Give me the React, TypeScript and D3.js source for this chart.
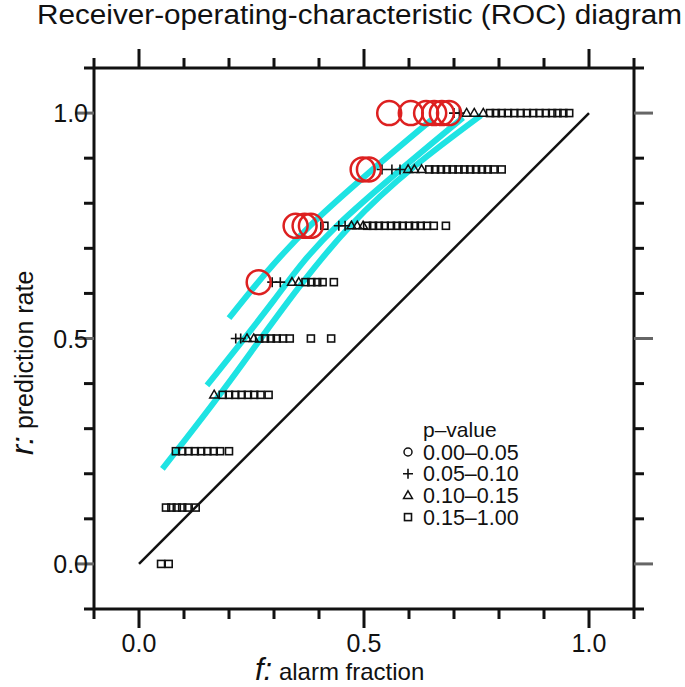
import * as d3 from 'd3';

// ── Data ────────────────────────────────────────────────────────────────────
const axisTicks = [-0.1, 0, 0.1, 0.2, 0.3, 0.4, 0.5, 0.6, 0.7, 0.8, 0.9, 1.0, 1.1];
const majorTicks = [0, 0.5, 1.0];
const tickLabels = ['0.0', '0.5', '1.0'];

// p 0.00–0.05 (drawn as big red circles)
const circlePts: [number, number][] = [
  [0.556, 1.0], [0.604, 1.0], [0.638, 1.0], [0.656, 1.0], [0.673, 1.0], [0.689, 1.0],
  [0.497, 0.875], [0.511, 0.875],
  [0.348, 0.75], [0.368, 0.75], [0.382, 0.75],
  [0.266, 0.625],
];

// p 0.05–0.10
const plusPts: [number, number][] = [
  [0.700, 1.0], [0.712, 1.0],
  [0.540, 0.875], [0.562, 0.875], [0.580, 0.875],
  [0.444, 0.75], [0.458, 0.75],
  [0.296, 0.625], [0.314, 0.625],
  [0.215, 0.5], [0.226, 0.5],
];

// p 0.10–0.15
const trianglePts: [number, number][] = [
  [0.728, 1.0], [0.745, 1.0], [0.765, 1.0],
  [0.598, 0.875], [0.612, 0.875], [0.628, 0.875],
  [0.472, 0.75], [0.485, 0.75], [0.498, 0.75],
  [0.340, 0.625], [0.355, 0.625],
  [0.240, 0.5], [0.255, 0.5],
  [0.167, 0.375],
];

// p 0.15–1.00
const squarePts: [number, number][] = [
  [0.780, 1.0], [0.793, 1.0], [0.806, 1.0], [0.820, 1.0], [0.834, 1.0], [0.848, 1.0], [0.862, 1.0],
  [0.876, 1.0], [0.890, 1.0], [0.904, 1.0], [0.918, 1.0], [0.930, 1.0], [0.943, 1.0], [0.956, 1.0],
  [0.645, 0.875], [0.658, 0.875], [0.671, 0.875], [0.684, 0.875], [0.697, 0.875], [0.710, 0.875],
  [0.723, 0.875], [0.736, 0.875], [0.749, 0.875], [0.762, 0.875], [0.775, 0.875], [0.788, 0.875], [0.806, 0.875],
  [0.412, 0.75], [0.507, 0.75], [0.520, 0.75], [0.533, 0.75], [0.546, 0.75], [0.560, 0.75], [0.573, 0.75],
  [0.586, 0.75], [0.600, 0.75], [0.613, 0.75], [0.626, 0.75], [0.640, 0.75], [0.655, 0.75], [0.682, 0.75],
  [0.370, 0.625], [0.383, 0.625], [0.396, 0.625], [0.408, 0.625], [0.433, 0.625],
  [0.267, 0.5], [0.280, 0.5], [0.293, 0.5], [0.306, 0.5], [0.320, 0.5], [0.335, 0.5], [0.382, 0.5], [0.427, 0.5],
  [0.186, 0.375], [0.200, 0.375], [0.214, 0.375], [0.228, 0.375], [0.242, 0.375], [0.256, 0.375], [0.270, 0.375], [0.288, 0.375],
  [0.082, 0.25], [0.096, 0.25], [0.110, 0.25], [0.124, 0.25], [0.138, 0.25], [0.152, 0.25], [0.166, 0.25], [0.180, 0.25], [0.200, 0.25],
  [0.060, 0.125], [0.072, 0.125], [0.084, 0.125], [0.096, 0.125], [0.108, 0.125], [0.126, 0.125],
  [0.049, 0.0], [0.066, 0.0],
];

// cyan ROC curves
const curveA: [number, number][] = [[0.20, 0.545], [0.38, 0.75], [0.65, 0.985]];
const curveB: [number, number][] = [[0.151, 0.396], [0.30, 0.585], [0.44, 0.75], [0.72, 0.99]];
const curveC: [number, number][] = [[0.052, 0.211], [0.22, 0.43], [0.47, 0.75], [0.76, 0.995]];

const diagonal: [number, number][] = [[0, 0], [1, 1]];

const legendTitle = 'p–value';
const legendLabels = ['0.00–0.05', '0.05–0.10', '0.10–0.15', '0.15–1.00'];
const legendKinds = ['circ', 'plus', 'tri', 'sq'];

// ── Layout ──────────────────────────────────────────────────────────────────
const W = 685;
const H = 687;
const FONT = '"Liberation Sans", Arial, Helvetica, sans-serif';
const CYAN = '#1ee3e3';
const RED = '#dd2020';

const x = d3.scaleLinear().domain([-0.1, 1.1]).range([94, 634]);
const y = d3.scaleLinear().domain([-0.1, 1.1]).range([609, 68]);

const line = d3.line<[number, number]>()
  .x(d => x(d[0]))
  .y(d => y(d[1]))
  .curve(d3.curveNatural);

const tri = d3.symbol(d3.symbolTriangle, 34)();
const plus = 'M-5,0H5M0,-5V5';

function Marker({ kind, cx, cy }: { kind: string; cx: number; cy: number }) {
  if (kind === 'plus') {
    return <path d={plus} transform={`translate(${cx},${cy})`} stroke="#111" strokeWidth={1.6} fill="none" />;
  }
  if (kind === 'tri') {
    return <path d={tri ?? ''} transform={`translate(${cx},${cy + 0.5})`} stroke="#111" strokeWidth={1.5} fill="none" />;
  }
  if (kind === 'sq') {
    return <rect x={cx - 3.5} y={cy - 3.5} width={7} height={7} stroke="#111" strokeWidth={1.6} fill="none" />;
  }
  return <circle cx={cx} cy={cy} r={4} stroke="#111" strokeWidth={1.5} fill="none" />;
}

export default function App() {
  const [x0, x1] = x.domain();
  const [y0, y1] = y.domain();
  const L = x(x0), R = x(x1), T = y(y1), B = y(y0);
  const tickLen = (v: number) => (majorTicks.includes(+v.toFixed(2)) ? 19 : 10);

  return (
    <svg width={W} height={H} style={{ position: 'absolute', left: 0, top: 0, background: '#fff' }}
      fontFamily={FONT}>
      {/* title */}
      <text x={37} y={24} fontSize={27} textLength={645} lengthAdjust="spacingAndGlyphs" fill="#111">
        Receiver-operating-characteristic (ROC) diagram
      </text>

      {/* cyan curves */}
      {[curveA, curveB, curveC].map((c, i) => (
        <path key={i} d={line(c) ?? ''} fill="none" stroke={CYAN} strokeWidth={6} />
      ))}

      {/* no-skill diagonal */}
      <path d={line(diagonal) ?? ''} fill="none" stroke="#111" strokeWidth={2.5} />

      {/* markers */}
      {squarePts.map((d, i) => <Marker key={`s${i}`} kind="sq" cx={x(d[0])} cy={y(d[1])} />)}
      {trianglePts.map((d, i) => <Marker key={`t${i}`} kind="tri" cx={x(d[0])} cy={y(d[1])} />)}
      {plusPts.map((d, i) => <Marker key={`p${i}`} kind="plus" cx={x(d[0])} cy={y(d[1])} />)}
      {circlePts.map((d, i) => (
        <circle key={`c${i}`} cx={x(d[0])} cy={y(d[1])} r={12} fill="none" stroke={RED} strokeWidth={2.5} />
      ))}

      {/* frame */}
      <g stroke="#111" strokeWidth={3} fill="none">
        <line x1={L} x2={R} y1={T} y2={T} />
        <line x1={L} x2={R} y1={B} y2={B} />
        <line x1={L} x2={L} y1={T} y2={B} />
        <line x1={R} x2={R} y1={T} y2={B} />
      </g>

      {/* ticks */}
      <g strokeWidth={3}>
        {axisTicks.map(v => (
          <g key={`xt${v}`} stroke="#111">
            <line x1={x(v)} x2={x(v)} y1={B} y2={B + tickLen(v)} />
            <line x1={x(v)} x2={x(v)} y1={T} y2={T - tickLen(v)} />
          </g>
        ))}
        {axisTicks.map(v => {
          const major = tickLen(v) > 10;
          return (
            <g key={`yt${v}`} stroke={major ? '#666' : '#111'}>
              <line x1={L} x2={L - tickLen(v)} y1={y(v)} y2={y(v)} />
              <line x1={R} x2={R + tickLen(v)} y1={y(v)} y2={y(v)} />
            </g>
          );
        })}
      </g>

      {/* tick labels */}
      <g fontSize={25} fill="#111">
        {majorTicks.map((v, i) => (
          <text key={`xl${v}`} x={x(v)} y={652} textAnchor="middle">{tickLabels[i]}</text>
        ))}
        {majorTicks.map((v, i) => (
          <text key={`yl${v}`} x={88} y={y(v) + 9} textAnchor="end">{tickLabels[i]}</text>
        ))}
      </g>

      {/* axis titles */}
      <text x={255} y={680} fontSize={24} fill="#111">
        <tspan fontStyle="italic" fontSize={31}>f:</tspan> alarm fraction
      </text>
      <text transform="translate(33,455) rotate(-90)" fontSize={25} fill="#111">
        <tspan fontStyle="italic" fontSize={31}>r:</tspan> prediction rate
      </text>

      {/* legend */}
      <g fill="#111">
        <text x={423} y={437} fontSize={21}>{legendTitle}</text>
        {legendLabels.map((lab, i) => {
          const ly = 452 + i * 21.7;
          return (
            <g key={lab}>
              <Marker kind={legendKinds[i]} cx={408} cy={ly} />
              <text x={423} y={ly + 7.5} fontSize={21.5}>{lab}</text>
            </g>
          );
        })}
      </g>
    </svg>
  );
}
